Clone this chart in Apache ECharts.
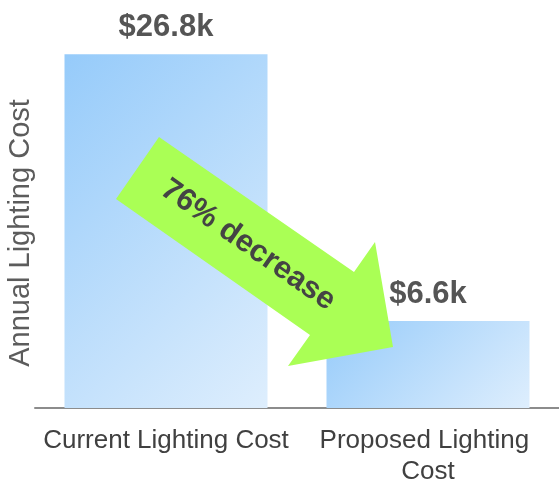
<!DOCTYPE html>
<html>
<head>
<meta charset="utf-8">
<script src="https://cdn.jsdelivr.net/npm/echarts@6/dist/echarts.min.js"></script>
<style>
html,body{margin:0;padding:0;background:#fff;}
#chart{width:559px;height:483px;}
</style>
</head>
<body>
<div id="chart"></div>
<script>
const categories = ['Current Lighting Cost', 'Proposed Lighting Cost'];
const costs = [26.8, 6.6];
const valueLabels = ['$26.8k', '$6.6k'];
const yTitle = 'Annual Lighting Cost';
const arrowText = '76% decrease';

const chart = echarts.init(document.getElementById('chart'), null, {renderer: 'canvas'});
const gradStops = [
  {offset: 0, color: '#96cbfa'},
  {offset: 1, color: '#deeefd'}
];
// gradient directions tuned so the shading runs at ~45deg on each bar
const gradEnds = [[1.37, 0.79], [0.71, 1.67]];
const FONT = 'Liberation Sans, Arial, sans-serif';

chart.setOption({
  animation: false,
  grid: {left: 35, right: 0, top: 12, bottom: 75, containLabel: false, outerBoundsMode: 'none'},
  xAxis: {
    type: 'category',
    data: categories,
    axisLine: {lineStyle: {color: '#8c8c8c', width: 2}},
    axisTick: {show: false},
    axisLabel: {
      color: '#404040', fontSize: 26, fontFamily: FONT, margin: 17,
      lineHeight: 31, width: 258, overflow: 'break', interval: 0
    }
  },
  yAxis: {
    type: 'value', min: 0, max: 30,
    show: false
  },
  series: [{
    type: 'bar',
    data: costs.map((v, i) => ({
      value: v,
      itemStyle: {color: new echarts.graphic.LinearGradient(0, 0, gradEnds[i][0], gradEnds[i][1], gradStops)}
    })),
    barWidth: 203,
    label: {
      show: true, position: 'top', distance: 11,
      formatter: p => valueLabels[p.dataIndex],
      fontSize: 31, fontWeight: 'bold', color: '#555555', fontFamily: FONT
    }
  }],
  graphic: [
    {
      type: 'text', x: 21, y: 233, rotation: Math.PI / 2, z: 100,
      style: {text: yTitle, fontSize: 29, fontFamily: FONT, fill: '#5c5c5c', align: 'center', verticalAlign: 'middle'}
    },
    {
      type: 'polygon', z: 100,
      shape: {points: [[159,137],[354,272],[375,242],[393,347],[288,366],[310,335],[116,199]]},
      style: {fill: '#aaff55'}
    },
    {
      type: 'text', x: 248, y: 245, rotation: -35 * Math.PI / 180, z: 101,
      style: {text: arrowText, fontSize: 31, fontWeight: 'bold', fontFamily: FONT, fill: '#444444', align: 'center', verticalAlign: 'middle'}
    }
  ]
});
</script>
</body>
</html>
